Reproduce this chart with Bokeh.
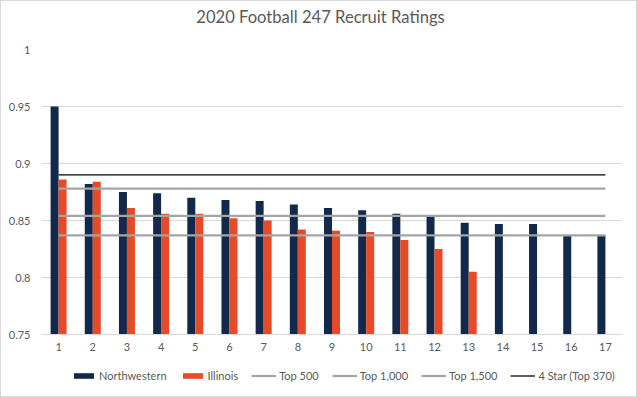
from bokeh.plotting import figure
from bokeh.layouts import column
from bokeh.models import (FactorRange, Legend, LegendItem, ColumnDataSource, FixedTicker,
                          Range1d, Label)
from bokeh.transform import dodge
from bokeh.embed import file_html
from bokeh.resources import INLINE

# ---- data ----
title_text = "2020 Football 247 Recruit Ratings"
recruits = [str(i) for i in range(1, 18)]
northwestern = [0.950, 0.882, 0.875, 0.874, 0.870, 0.868, 0.867, 0.864, 0.861,
                0.859, 0.856, 0.853, 0.848, 0.847, 0.847, 0.837, 0.837]
illinois_recruits = [str(i) for i in range(1, 14)]
illinois = [0.886, 0.884, 0.861, 0.856, 0.856, 0.852, 0.850, 0.842, 0.841,
            0.840, 0.833, 0.825, 0.805]
top_500 = 0.878
top_1000 = 0.854
top_1500 = 0.837
four_star = 0.890
y_ticks = [0.75, 0.8, 0.85, 0.9, 0.95, 1.0]
y_labels = {0.75: "0.75", 0.8: "0.8", 0.85: "0.85", 0.9: "0.9", 0.95: "0.95", 1.0: "1"}
series_names = ["Northwestern", "Illinois", "Top 500", "Top 1,000", "Top 1,500", "4 Star (Top 370)"]

FONT = "Lato"
TXT = "#595959"
NAVY = "#13294B"
ORANGE = "#E84A27"
GRAY = "#A5A5A5"
W = 635


def strip(h):
    f = figure(width=W, height=h, output_backend="svg", toolbar_location=None,
               x_range=Range1d(0, 1), y_range=Range1d(0, 1),
               x_axis_type=None, y_axis_type=None, min_border=0)
    f.grid.visible = False
    f.outline_line_color = None
    return f


# ---- title strip ----
tt = strip(38)
tt.add_layout(Label(x=0.5, y=0.5, x_offset=-11.5, y_offset=4, text=title_text,
                    text_align="center", text_baseline="middle", text_font=FONT,
                    text_font_size="16.6px", text_color=TXT))

# ---- main chart ----
p = figure(x_range=FactorRange(*recruits, range_padding=0),
           y_range=Range1d(y_ticks[0], y_ticks[-1]),
           width=W, height=317, output_backend="svg", toolbar_location=None,
           min_border_left=40, min_border_right=14, min_border_top=10, min_border_bottom=22)

nw_src = ColumnDataSource(dict(x=recruits, top=northwestern))
il_src = ColumnDataSource(dict(x=illinois_recruits, top=illinois))
bw = 0.234
p.vbar(x=dodge("x", -bw / 2, range=p.x_range), top="top", bottom=y_ticks[0],
       width=bw, source=nw_src, fill_color=NAVY, line_color=None)
p.vbar(x=dodge("x", bw / 2, range=p.x_range), top="top", bottom=y_ticks[0],
       width=bw, source=il_src, fill_color=ORANGE, line_color=None)

ends = [recruits[0], recruits[-1]]
for lvl, col, lw in [(top_500, GRAY, 2.25), (top_1000, GRAY, 2.25),
                     (top_1500, GRAY, 2.25), (four_star, "black", 1.25)]:
    p.line(ends, [lvl, lvl], line_color=col, line_width=lw)

p.xgrid.grid_line_color = None
p.ygrid.grid_line_color = "#D9D9D9"
p.ygrid.grid_line_width = 1
p.yaxis.ticker = FixedTicker(ticks=y_ticks)
p.yaxis.major_label_overrides = y_labels
p.yaxis.axis_line_color = None
p.xaxis.axis_line_color = "#D9D9D9"
for ax in (p.xaxis, p.yaxis):
    ax.major_tick_line_color = None
    ax.minor_tick_line_color = None
    ax.major_tick_out = 0
    ax.major_tick_in = 0
    ax.major_label_text_font = FONT
    ax.major_label_text_font_size = "11px"
    ax.major_label_text_color = TXT
p.yaxis.major_label_standoff = 11
p.xaxis.major_label_standoff = 8
p.outline_line_color = None

# ---- legend strip ----
lg = strip(40)
nan = float("nan")
rs = [
    lg.rect(x=[nan], y=[nan], width=0.1, height=0.1, fill_color=NAVY, line_color=None),
    lg.rect(x=[nan], y=[nan], width=0.1, height=0.1, fill_color=ORANGE, line_color=None),
    lg.line(x=[nan], y=[nan], line_color=GRAY, line_width=2.25),
    lg.line(x=[nan], y=[nan], line_color=GRAY, line_width=2.25),
    lg.line(x=[nan], y=[nan], line_color=GRAY, line_width=2.25),
    lg.line(x=[nan], y=[nan], line_color="black", line_width=1.25),
]
legend = Legend(items=[LegendItem(label=n, renderers=[r]) for n, r in zip(series_names, rs)],
                orientation="horizontal", location=(30, 14),
                glyph_width=25, glyph_height=7, label_standoff=3, spacing=13,
                label_text_font=FONT, label_text_font_size="11px", label_text_color=TXT,
                border_line_color=None, background_fill_alpha=0, padding=0, margin=0)
lg.add_layout(legend)

layout = column(tt, p, lg, spacing=0, styles={"border": "1px solid #D9D9D9"})
open("out.html", "w").write(file_html(layout, INLINE))
